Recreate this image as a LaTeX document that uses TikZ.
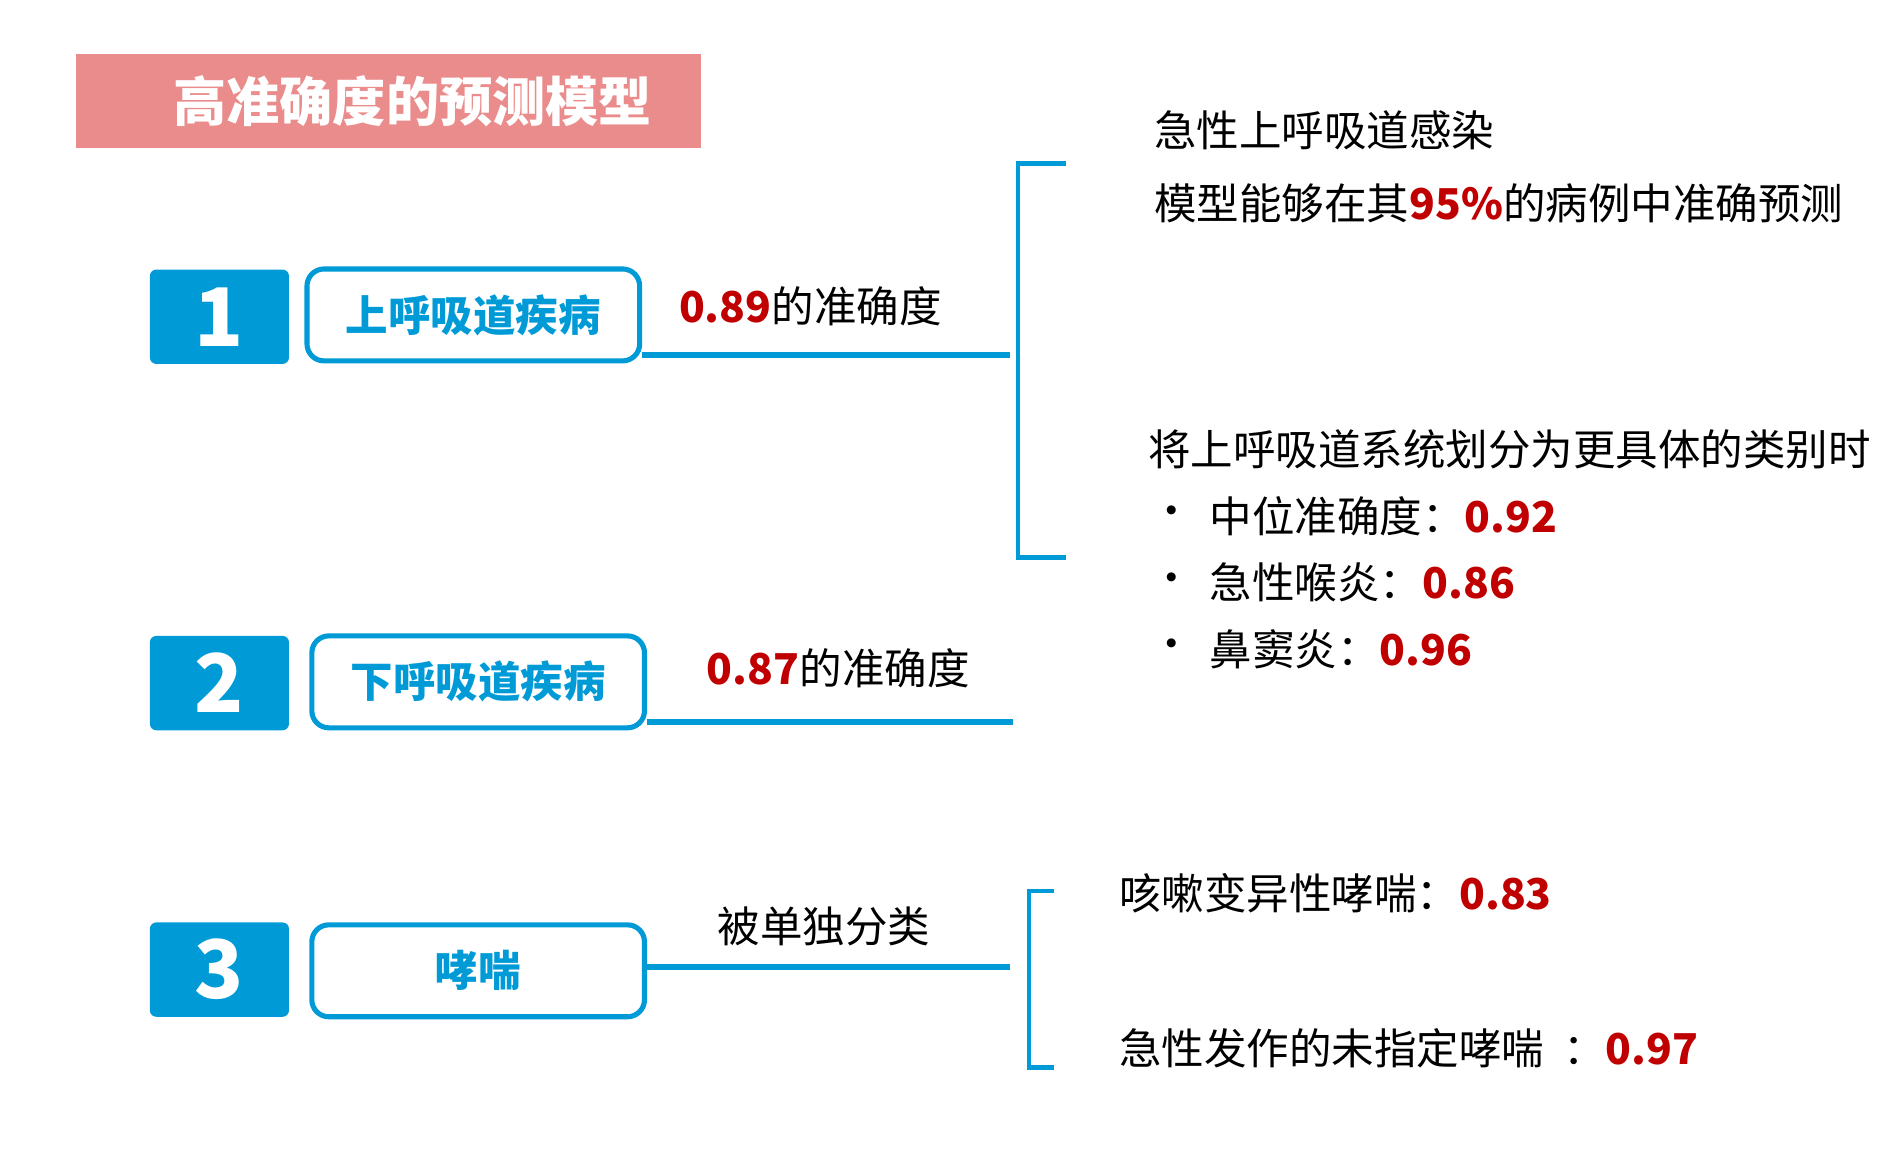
\documentclass[tikz,border=0pt]{standalone}
\usepackage{fontspec}
\setmainfont{Noto Sans CJK SC}
\usetikzlibrary{positioning,calc}
\definecolor{boxBlue}{RGB}{0,155,215}
\definecolor{titlePink}{RGB}{235,140,140}
\definecolor{numRed}{RGB}{192,0,0}
\newcommand{\rv}[1]{\textcolor{numRed}{\textbf{#1}}}
\begin{document}
\begin{tikzpicture}[x=0.01cm, y=-0.01cm,
		every node/.style={inner sep=0pt, font=\fontsize{10pt}{12pt}\selectfont},
		numBox/.style={fill=boxBlue, rounded corners=1.5pt, minimum width=1.15cm, minimum height=0.78cm,
				text=white, font=\fontsize{19pt}{22pt}\selectfont\bfseries},
		labelBox/.style={draw=boxBlue, line width=1.2pt, rounded corners=4pt, minimum width=2.75cm, minimum height=0.76cm,
				text=boxBlue, font=\fontsize{10pt}{12pt}\selectfont\bfseries},
		leadLine/.style={boxBlue, line width=1.4pt},
		brace/.style={boxBlue, line width=1.1pt},
		txt/.style={anchor=west}
	]
	\useasboundingbox (0,0) rectangle (1560,954.5);

	% title
	\node[fill=titlePink, minimum width=5.17cm, minimum height=0.78cm, anchor=north west,
		text=white, font=\fontsize{12.5pt}{14pt}\selectfont\bfseries] (title) at (62,44) {\hspace*{0.4cm}高准确度的预测模型};

	% rows
	\node[numBox] (N1) at (181.5,262) {1};
	\node[numBox] (N2) at (181.5,565) {2};
	\node[numBox] (N3) at (181.5,802) {3};
	\node[labelBox] (L1) at (391.5,260.5) {上呼吸道疾病};
	\node[labelBox] (L2) at (395.5,564) {下呼吸道疾病};
	\node[labelBox] (L3) at (395.5,803) {哮喘};

	\coordinate (E1) at (835,294);
	\coordinate (E2) at (838,597);
	\coordinate (E3) at (835,800);
	\draw[leadLine] (L1.east |- E1) -- (E1);
	\draw[leadLine] (L2.east |- E2) -- (E2);
	\draw[leadLine] (L3.east |- E3) -- (E3);

	\node[txt] (A1) at (561,253) {\rv{0.89}的准确度};
	\node[txt] (A2) at (584,553) {\rv{0.87}的准确度};
	\node[txt] (A3) at (593,766) {被单独分类};

	% brackets
	\draw[brace] (882,135) -- (842,135) -- (842,461) -- (882,461);
	\draw[brace] (872,737) -- (851,737) -- (851,883) -- (872,883);

	% right texts
	\node[txt] (R1) at (954,108) {急性上呼吸道感染};
	\node[txt] (R2) at (954,168) {模型能够在其\rv{95\%}的病例中准确预测};
	\node[txt] (R3) at (949,372) {将上呼吸道系统划分为更具体的类别时};
	\foreach \y/\t [count=\i] in {427/{中位准确度：\rv{0.92}}, 482/{急性喉炎：\rv{0.86}}, 537/{鼻窦炎：\rv{0.96}}} {
		\node[txt] (D\i) at (951,\y) {•};
		\node[txt] (B\i) at (1000,\y) {\t};
	}
	\node[txt] (S1) at (925,739) {咳嗽变异性哮喘：\rv{0.83}};
	\node[txt] (S2) at (925,867) {急性发作的未指定哮喘\ \ ：\rv{0.97}};
\end{tikzpicture}
\end{document}
